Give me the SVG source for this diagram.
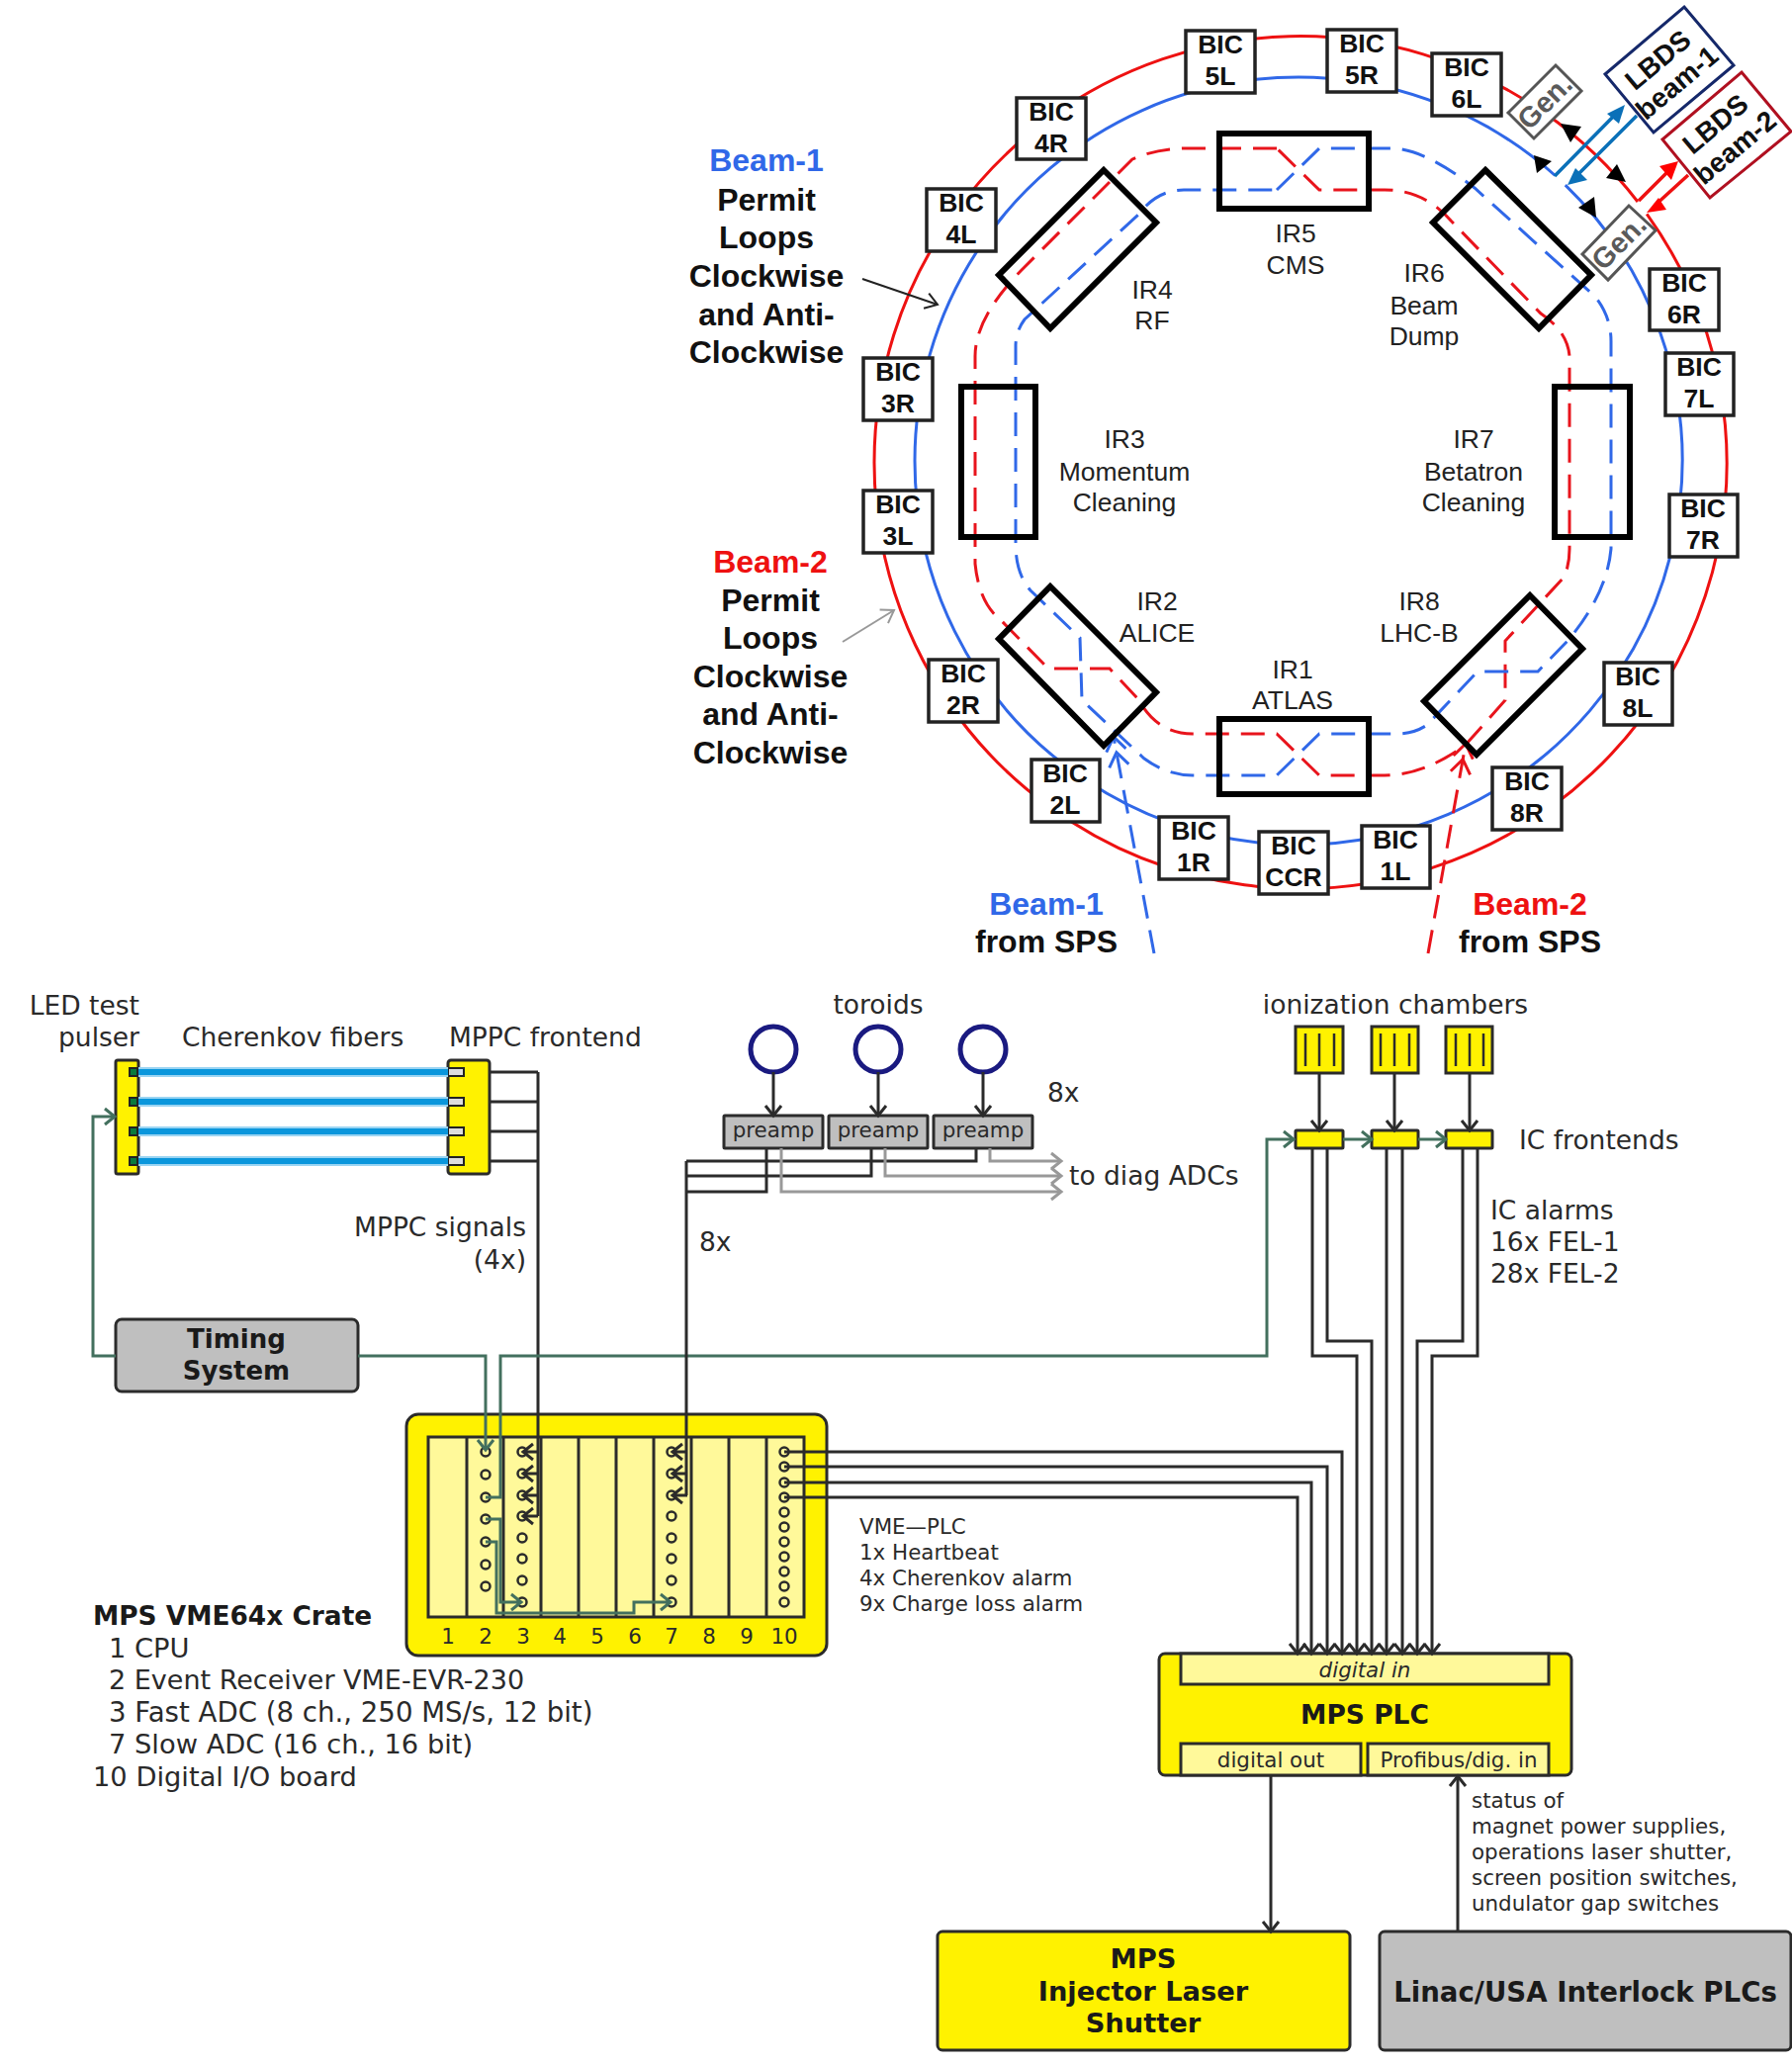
<svg xmlns="http://www.w3.org/2000/svg" width="1812" height="2088" viewBox="0 0 1812 2088">
<style>
text{font-family:"Liberation Sans",Arial,sans-serif;fill:#111}
.bic{fill:#fff;stroke:#222;stroke-width:3.5}
.bt{font-size:26.5px;font-weight:700;text-anchor:middle}
.ir{fill:none;stroke:#000;stroke-width:6;stroke-linejoin:miter}
.il{font-size:26.5px;text-anchor:middle;fill:#222}
.hd{font-size:32px;font-weight:700;text-anchor:middle}
.v{font-family:"DejaVu Sans",Verdana,sans-serif;font-size:26.5px;fill:#2a2a2a}
.vb{font-family:"DejaVu Sans",Verdana,sans-serif;font-size:27.3px;font-weight:700;fill:#1a1a1a;text-anchor:middle}
.vs{font-family:"DejaVu Sans",Verdana,sans-serif;font-size:21.4px;fill:#2a2a2a}
.m{text-anchor:middle}
.e{text-anchor:end}
.d,.g,.gr,.f,.fl{fill:none;stroke-linejoin:miter}
.d{stroke:#2b2b2b;stroke-width:3}
.g{stroke:#43705e;stroke-width:3}
.gr{stroke:#999;stroke-width:3}
.f{stroke:#0a96dc;stroke-width:6}
.fl{stroke:#9ad4f2;stroke-width:10}
.yb{fill:#fff200;stroke:#2b2b2b;stroke-width:3}
.ly{fill:#fff99a;stroke:#2b2b2b;stroke-width:3}
.gb{fill:#bfbfbf;stroke:#2b2b2b;stroke-width:3}
.c{fill:none;stroke:#2b2b2b;stroke-width:2.5}
.rr{fill:none;stroke:#ee1111;stroke-width:3}
.br{fill:none;stroke:#3068e8;stroke-width:3}
.rd{fill:none;stroke:#e8141c;stroke-width:3;stroke-dasharray:24 12}
.bd{fill:none;stroke:#3068e8;stroke-width:3;stroke-dasharray:24 12}
.gen{fill:#fff;stroke:#555;stroke-width:3}
.gt{font-size:29px;font-weight:700;text-anchor:middle;fill:#5a5a5a}
.lt{font-size:28px;font-weight:700;text-anchor:middle}
</style>
<defs>
<marker id="ad" markerUnits="userSpaceOnUse" markerWidth="16" markerHeight="20" refX="12" refY="10" orient="auto"><path d="M2 2L12 10L2 18" fill="none" stroke="#2b2b2b" stroke-width="3"/></marker>
<marker id="ag" markerUnits="userSpaceOnUse" markerWidth="16" markerHeight="20" refX="12" refY="10" orient="auto"><path d="M2 2L12 10L2 18" fill="none" stroke="#43705e" stroke-width="3"/></marker>
<marker id="agr" markerUnits="userSpaceOnUse" markerWidth="16" markerHeight="20" refX="12" refY="10" orient="auto"><path d="M2 2L12 10L2 18" fill="none" stroke="#999" stroke-width="3"/></marker>
<marker id="ab" markerUnits="userSpaceOnUse" markerWidth="36" markerHeight="24" refX="32" refY="12" orient="auto"><path d="M18 2L32 12L18 22M2 2L16 12L2 22" fill="none" stroke="#3068e8" stroke-width="3"/></marker>
<marker id="ar" markerUnits="userSpaceOnUse" markerWidth="36" markerHeight="24" refX="32" refY="12" orient="auto"><path d="M18 2L32 12L18 22M2 2L16 12L2 22" fill="none" stroke="#e8141c" stroke-width="3"/></marker>
<marker id="ak" markerUnits="userSpaceOnUse" markerWidth="20" markerHeight="20" refX="15" refY="10" orient="auto"><path d="M3 2L15 10L3 18" fill="none" stroke="#222" stroke-width="2"/></marker>
<marker id="al" markerUnits="userSpaceOnUse" markerWidth="20" markerHeight="20" refX="15" refY="10" orient="auto"><path d="M3 2L15 10L3 18" fill="none" stroke="#999" stroke-width="2"/></marker>
</defs>

<g id="connectors-ring">
<path class="rr" d="M1656 204A431 431 0 0 0 884 467.5A431 431 0 1 0 1665.2 216.3"/>
<path class="br" d="M1572.5 177.5A388 388 0 0 0 925 466A388 388 0 1 0 1582.8 187.2"/>
<path class="rd" d="M1291 150L1200 150Q1170 150 1145 161L1036 270Q986 320 986 360L986 570Q990 610 1012 627L1060 676L1122 676L1151 707Q1170 742 1206 742L1291 742L1334 784L1400 784Q1440 784 1482 753L1522 708L1522 648L1582 583Q1587 570 1587 555L1587 360Q1585 335 1558 317L1467 223Q1440 192 1400 192L1334 192Z"/>
<path class="bd" d="M1291 192L1334 150L1406 150Q1440 150 1491 190L1613 300Q1629 320 1629 345L1629 555Q1625 600 1586 647L1555 679L1494 679L1443 733Q1430 742 1412 742L1334 742L1291 784L1206 784Q1180 784 1157 767L1094 708L1092 645L1042 597Q1027 580 1027 550L1027 350Q1027 335 1036 323L1151 217Q1170 192 1197 192Z"/>
<path class="bd" d="M1167 964L1126 745" marker-end="url(#ab)"/>
<path class="rd" d="M1444 964L1482 752" marker-end="url(#ar)"/>
<path d="M872 282L948 308" fill="none" stroke="#222" stroke-width="2" marker-end="url(#ak)"/>
<path d="M852 649L904 617" fill="none" stroke="#999" stroke-width="2" marker-end="url(#al)"/>
<path fill="none" stroke="#0a70b8" stroke-width="3.5" d="M1572 178L1636 113M1655 117L1592 180"/>
<path fill="none" stroke="#ee1111" stroke-width="3.5" d="M1657 203L1690 170M1707 177L1673 208"/>
<polygon fill="#0a70b8" points="1643,106 1625,115 1637,125"/>
<polygon fill="#0a70b8" points="1585,187 1605,182 1593,170"/>
<polygon fill="#ff0000" points="1697,163 1678,168 1690,182"/>
<polygon fill="#ff0000" points="1665,215 1677,200 1685,212"/>
<polygon fill="#000" points="1578,125 1588,144 1599,128"/>
<polygon fill="#000" points="1644,184 1624,180 1635,166"/>
<polygon fill="#000" points="1551,157 1554,175 1569,163"/>
<polygon fill="#000" points="1614,220 1596,210 1612,199"/>
</g>

<g id="ir-boxes">
<rect class="ir" x="1233" y="135" width="151" height="76"/>
<rect class="ir" x="1233" y="727" width="151" height="76"/>
<rect class="ir" x="972" y="391" width="75" height="152"/>
<rect class="ir" x="1572" y="391" width="76" height="152"/>
<polygon class="ir" points="1116,172 1169,225 1062,332 1010,278"/>
<polygon class="ir" points="1502,172 1609,278 1556,332 1449,225"/>
<polygon class="ir" points="1062,593 1169,700 1116,754 1010,646"/>
<polygon class="ir" points="1547,602 1600,656 1493,763 1440,709"/>
</g>
<g id="ir-labels">
<text class="il"><tspan x="1310" y="245">IR5</tspan><tspan x="1310" y="277">CMS</tspan></text>
<text class="il"><tspan x="1165" y="302">IR4</tspan><tspan x="1165" y="333">RF</tspan></text>
<text class="il"><tspan x="1440" y="285">IR6</tspan><tspan x="1440" y="318">Beam</tspan><tspan x="1440" y="349">Dump</tspan></text>
<text class="il"><tspan x="1137" y="453">IR3</tspan><tspan x="1137" y="486">Momentum</tspan><tspan x="1137" y="517">Cleaning</tspan></text>
<text class="il"><tspan x="1490" y="453">IR7</tspan><tspan x="1490" y="486">Betatron</tspan><tspan x="1490" y="517">Cleaning</tspan></text>
<text class="il"><tspan x="1170" y="617">IR2</tspan><tspan x="1170" y="649">ALICE</tspan></text>
<text class="il"><tspan x="1435" y="617">IR8</tspan><tspan x="1435" y="649">LHC-B</tspan></text>
<text class="il"><tspan x="1307" y="686">IR1</tspan><tspan x="1307" y="717">ATLAS</tspan></text>
</g>
<g id="bic-5l"><rect class="bic" x="1199" y="31" width="70" height="63"/><text class="bt"><tspan x="1234" y="54">BIC</tspan><tspan x="1234" y="86">5L</tspan></text></g>
<g id="bic-5r"><rect class="bic" x="1342" y="30" width="70" height="63"/><text class="bt"><tspan x="1377" y="53">BIC</tspan><tspan x="1377" y="85">5R</tspan></text></g>
<g id="bic-6l"><rect class="bic" x="1448" y="54" width="70" height="63"/><text class="bt"><tspan x="1483" y="77">BIC</tspan><tspan x="1483" y="109">6L</tspan></text></g>
<g id="bic-4r"><rect class="bic" x="1028" y="99" width="70" height="62"/><text class="bt"><tspan x="1063" y="122">BIC</tspan><tspan x="1063" y="154">4R</tspan></text></g>
<g id="bic-4l"><rect class="bic" x="937" y="191" width="70" height="63"/><text class="bt"><tspan x="972" y="214">BIC</tspan><tspan x="972" y="246">4L</tspan></text></g>
<g id="bic-3r"><rect class="bic" x="873" y="362" width="70" height="63"/><text class="bt"><tspan x="908" y="385">BIC</tspan><tspan x="908" y="417">3R</tspan></text></g>
<g id="bic-3l"><rect class="bic" x="873" y="496" width="70" height="63"/><text class="bt"><tspan x="908" y="519">BIC</tspan><tspan x="908" y="551">3L</tspan></text></g>
<g id="bic-6r"><rect class="bic" x="1668" y="272" width="70" height="62"/><text class="bt"><tspan x="1703" y="295">BIC</tspan><tspan x="1703" y="327">6R</tspan></text></g>
<g id="bic-7l"><rect class="bic" x="1684" y="357" width="69" height="63"/><text class="bt"><tspan x="1718" y="380">BIC</tspan><tspan x="1718" y="412">7L</tspan></text></g>
<g id="bic-7r"><rect class="bic" x="1688" y="500" width="69" height="63"/><text class="bt"><tspan x="1722" y="523">BIC</tspan><tspan x="1722" y="555">7R</tspan></text></g>
<g id="bic-2r"><rect class="bic" x="939" y="667" width="70" height="63"/><text class="bt"><tspan x="974" y="690">BIC</tspan><tspan x="974" y="722">2R</tspan></text></g>
<g id="bic-2l"><rect class="bic" x="1043" y="768" width="69" height="63"/><text class="bt"><tspan x="1077" y="791">BIC</tspan><tspan x="1077" y="823">2L</tspan></text></g>
<g id="bic-1r"><rect class="bic" x="1172" y="826" width="70" height="63"/><text class="bt"><tspan x="1207" y="849">BIC</tspan><tspan x="1207" y="881">1R</tspan></text></g>
<g id="bic-ccr"><rect class="bic" x="1273" y="841" width="70" height="63"/><text class="bt"><tspan x="1308" y="864">BIC</tspan><tspan x="1308" y="896">CCR</tspan></text></g>
<g id="bic-1l"><rect class="bic" x="1377" y="835" width="69" height="63"/><text class="bt"><tspan x="1411" y="858">BIC</tspan><tspan x="1411" y="890">1L</tspan></text></g>
<g id="bic-8r"><rect class="bic" x="1509" y="776" width="70" height="63"/><text class="bt"><tspan x="1544" y="799">BIC</tspan><tspan x="1544" y="831">8R</tspan></text></g>
<g id="bic-8l"><rect class="bic" x="1622" y="670" width="69" height="63"/><text class="bt"><tspan x="1656" y="693">BIC</tspan><tspan x="1656" y="725">8L</tspan></text></g>

<g id="gen-1"><polygon class="gen" points="1573,66 1599,92 1551,140 1525,114"/><text class="gt" transform="translate(1569,110) rotate(-45)">Gen.</text></g>
<g id="gen-2"><polygon class="gen" points="1647,208 1674,233 1626,283 1600,257"/><text class="gt" transform="translate(1644,252) rotate(-45)">Gen.</text></g>
<g id="lbds-1"><polygon points="1703,7 1753,66 1672,134 1623,75" fill="#fff" stroke="#15286a" stroke-width="3"/><text class="lt" transform="translate(1688,70) rotate(-40)"><tspan x="-3" y="-5">LBDS</tspan><tspan x="-3" y="25">beam-1</tspan></text></g>
<g id="lbds-2"><polygon points="1761,73 1811,133 1729,200 1681,141" fill="#fff" stroke="#b01020" stroke-width="3"/><text class="lt" transform="translate(1746,136) rotate(-40)"><tspan x="-2" y="-6">LBDS</tspan><tspan x="-2" y="25">beam-2</tspan></text></g>

<g id="beam-labels">
<text class="hd"><tspan x="775" y="173" style="fill:#3068e8">Beam-1</tspan><tspan x="775" y="213">Permit</tspan><tspan x="775" y="251">Loops</tspan><tspan x="775" y="290">Clockwise</tspan><tspan x="775" y="329">and Anti-</tspan><tspan x="775" y="367">Clockwise</tspan></text>
<text class="hd"><tspan x="779" y="579" style="fill:#ee1111">Beam-2</tspan><tspan x="779" y="618">Permit</tspan><tspan x="779" y="656">Loops</tspan><tspan x="779" y="695">Clockwise</tspan><tspan x="779" y="733">and Anti-</tspan><tspan x="779" y="772">Clockwise</tspan></text>
<text class="hd"><tspan x="1058" y="925" style="fill:#3068e8">Beam-1</tspan><tspan x="1058" y="963">from SPS</tspan></text>
<text class="hd"><tspan x="1547" y="925" style="fill:#ee1111">Beam-2</tspan><tspan x="1547" y="963">from SPS</tspan></text>
</g>

<g id="led-pulser"><rect class="yb" x="117" y="1072" width="23" height="115" rx="2"/>
<g fill="#0a7a3c" stroke="#222" stroke-width="2"><rect x="131" y="1080" width="8" height="8"/><rect x="131" y="1110" width="8" height="8"/><rect x="131" y="1140" width="8" height="8"/><rect x="131" y="1170" width="8" height="8"/></g></g>
<g id="mppc-frontend"><rect class="yb" x="453" y="1072" width="42" height="115" rx="3"/>
<g fill="#ddd" stroke="#222" stroke-width="2"><rect x="453" y="1080" width="16" height="8"/><rect x="453" y="1110" width="16" height="8"/><rect x="453" y="1140" width="16" height="8"/><rect x="453" y="1170" width="16" height="8"/></g></g>
<g id="timing-system"><rect class="gb" x="117" y="1334" width="245" height="73" rx="6"/><text class="vb" style="font-size:26px"><tspan x="239" y="1363">Timing</tspan><tspan x="239" y="1395">System</tspan></text></g>

<g id="toroids"><circle cx="782" cy="1061" r="23" fill="none" stroke="#1a1a80" stroke-width="5"/><circle cx="888" cy="1061" r="23" fill="none" stroke="#1a1a80" stroke-width="5"/><circle cx="994" cy="1061" r="23" fill="none" stroke="#1a1a80" stroke-width="5"/></g>
<g id="preamps">
<rect class="gb" x="732" y="1128" width="100" height="33" rx="1"/><rect class="gb" x="838" y="1128" width="100" height="33" rx="1"/><rect class="gb" x="944" y="1128" width="100" height="33" rx="1"/>
<text class="vs m" x="782" y="1150">preamp</text><text class="vs m" x="888" y="1150">preamp</text><text class="vs m" x="994" y="1150">preamp</text>
</g>
<g id="ion-chambers">
<rect class="yb" x="1310" y="1038" width="48" height="47"/><rect class="yb" x="1387" y="1038" width="47" height="47"/><rect class="yb" x="1462" y="1038" width="47" height="47"/>
<path class="c" d="M1320 1045V1078M1334 1045V1078M1349 1045V1078M1396 1045V1078M1410 1045V1078M1425 1045V1078M1472 1045V1078M1486 1045V1078M1500 1045V1078"/>
</g>
<g id="ic-frontends"><rect class="yb" x="1310" y="1143" width="48" height="18" rx="1"/><rect class="yb" x="1387" y="1143" width="47" height="18" rx="1"/><rect class="yb" x="1462" y="1143" width="47" height="18" rx="1"/></g>

<g id="vme-crate">
<rect class="yb" x="411" y="1430" width="425" height="244" rx="12"/>
<rect class="ly" x="433" y="1453" width="380" height="182"/>
<path class="d" d="M472 1453V1635M509 1453V1635M547 1453V1635M585 1453V1635M623 1453V1635M661 1453V1635M699 1453V1635M737 1453V1635M775 1453V1635"/>
<g>
<circle class="c" cx="491" cy="1468" r="4.5"/><circle class="c" cx="491" cy="1491" r="4.5"/><circle class="c" cx="491" cy="1514" r="4.5"/><circle class="c" cx="491" cy="1536" r="4.5"/><circle class="c" cx="491" cy="1559" r="4.5"/><circle class="c" cx="491" cy="1582" r="4.5"/><circle class="c" cx="491" cy="1604" r="4.5"/>
<circle class="c" cx="528" cy="1468" r="4.5"/><circle class="c" cx="528" cy="1490" r="4.5"/><circle class="c" cx="528" cy="1512" r="4.5"/><circle class="c" cx="528" cy="1533" r="4.5"/><circle class="c" cx="528" cy="1555" r="4.5"/><circle class="c" cx="528" cy="1576" r="4.5"/><circle class="c" cx="528" cy="1598" r="4.5"/><circle class="c" cx="528" cy="1620" r="4.5"/>
<circle class="c" cx="679" cy="1468" r="4.5"/><circle class="c" cx="679" cy="1490" r="4.5"/><circle class="c" cx="679" cy="1512" r="4.5"/><circle class="c" cx="679" cy="1533" r="4.5"/><circle class="c" cx="679" cy="1555" r="4.5"/><circle class="c" cx="679" cy="1576" r="4.5"/><circle class="c" cx="679" cy="1598" r="4.5"/><circle class="c" cx="679" cy="1620" r="4.5"/>
<circle class="c" cx="793" cy="1468" r="4.5"/><circle class="c" cx="793" cy="1483" r="4.5"/><circle class="c" cx="793" cy="1499" r="4.5"/><circle class="c" cx="793" cy="1514" r="4.5"/><circle class="c" cx="793" cy="1529" r="4.5"/><circle class="c" cx="793" cy="1544" r="4.5"/><circle class="c" cx="793" cy="1559" r="4.5"/><circle class="c" cx="793" cy="1574" r="4.5"/><circle class="c" cx="793" cy="1589" r="4.5"/><circle class="c" cx="793" cy="1604" r="4.5"/><circle class="c" cx="793" cy="1620" r="4.5"/>
</g>
<g><text class="vs m" x="453" y="1662">1</text><text class="vs m" x="491" y="1662">2</text><text class="vs m" x="529" y="1662">3</text><text class="vs m" x="566" y="1662">4</text><text class="vs m" x="604" y="1662">5</text><text class="vs m" x="642" y="1662">6</text><text class="vs m" x="679" y="1662">7</text><text class="vs m" x="717" y="1662">8</text><text class="vs m" x="755" y="1662">9</text><text class="vs m" x="793" y="1662">10</text></g>
</g>
<g id="mps-plc">
<rect class="yb" x="1172" y="1672" width="417" height="123" rx="6"/>
<rect class="ly" x="1194" y="1672" width="372" height="31"/>
<rect class="ly" x="1194" y="1763" width="182" height="32"/>
<rect class="ly" x="1383" y="1763" width="183" height="32"/>
<text class="vs m" x="1380" y="1696" font-style="italic">digital in</text>
<text class="vb" x="1380" y="1743" style="font-size:26.5px">MPS PLC</text>
<text class="vs m" x="1285" y="1787">digital out</text>
<text class="vs m" x="1475" y="1787">Profibus/dig. in</text>
</g>
<g id="injector-shutter"><rect class="yb" x="948" y="1953" width="417" height="120" rx="5"/><text class="vb"><tspan x="1156" y="1990">MPS</tspan><tspan x="1156" y="2023">Injector Laser</tspan><tspan x="1156" y="2055">Shutter</tspan></text></g>
<g id="interlock-plcs"><rect class="gb" x="1395" y="1953" width="416" height="120" rx="5"/><text class="vb" x="1603" y="2024" style="font-size:27.6px">Linac/USA Interlock PLCs</text></g>

<g id="connectors">
<path class="fl" d="M140 1084H453M140 1114H453M140 1144H453M140 1174H453"/>
<path class="f" d="M140 1084H453M140 1114H453M140 1144H453M140 1174H453"/>
<path class="d" d="M495 1084H544M495 1114H544M495 1144H544M495 1174H544"/>
<path class="d" d="M544 1084V1533"/>
<path class="d" d="M544 1468H529" marker-end="url(#ad)"/><path class="d" d="M544 1490H529" marker-end="url(#ad)"/><path class="d" d="M544 1512H529" marker-end="url(#ad)"/><path class="d" d="M544 1533H529" marker-end="url(#ad)"/>
<path class="g" d="M117 1371H94V1129H116" marker-end="url(#ag)"/>
<path class="g" d="M362 1371H491V1466" marker-end="url(#ag)"/>
<path class="g" d="M491 1514H506V1371H1281V1152H1308" marker-end="url(#ag)"/>
<path class="g" d="M491 1536H506V1620H527" marker-end="url(#ag)"/>
<path class="g" d="M491 1559H502V1631H641V1620H678" marker-end="url(#ag)"/>
<path class="g" d="M1358 1152H1387" marker-end="url(#ag)"/>
<path class="g" d="M1434 1152H1462" marker-end="url(#ag)"/>
<path class="d" d="M782 1084V1128" marker-end="url(#ad)"/><path class="d" d="M888 1084V1128" marker-end="url(#ad)"/><path class="d" d="M994 1084V1128" marker-end="url(#ad)"/>
<path class="d" d="M987 1161V1174H694M881 1161V1189H694M775 1161V1205H694M694 1174V1512"/>
<path class="d" d="M695 1468H680" marker-end="url(#ad)"/><path class="d" d="M695 1490H680" marker-end="url(#ad)"/><path class="d" d="M695 1512H680" marker-end="url(#ad)"/>
<path class="gr" d="M1001 1161V1174H1073" marker-end="url(#agr)"/><path class="gr" d="M895 1161V1189H1073" marker-end="url(#agr)"/><path class="gr" d="M790 1161V1205H1073" marker-end="url(#agr)"/>
<path class="d" d="M1334 1085V1143" marker-end="url(#ad)"/><path class="d" d="M1410 1085V1143" marker-end="url(#ad)"/><path class="d" d="M1486 1085V1143" marker-end="url(#ad)"/>
<path class="d" d="M1327 1161V1371H1372V1672" marker-end="url(#ad)"/>
<path class="d" d="M1342 1161V1356H1387V1672" marker-end="url(#ad)"/>
<path class="d" d="M1402 1161V1672" marker-end="url(#ad)"/>
<path class="d" d="M1418 1161V1672" marker-end="url(#ad)"/>
<path class="d" d="M1479 1161V1356H1433V1672" marker-end="url(#ad)"/>
<path class="d" d="M1494 1161V1371H1448V1672" marker-end="url(#ad)"/>
<path class="d" d="M793 1468H1357V1672" marker-end="url(#ad)"/>
<path class="d" d="M793 1483H1342V1672" marker-end="url(#ad)"/>
<path class="d" d="M793 1499H1326V1672" marker-end="url(#ad)"/>
<path class="d" d="M793 1514H1312V1672" marker-end="url(#ad)"/>
<path class="d" d="M1285 1795V1953" marker-end="url(#ad)"/>
<path class="d" d="M1474 1953V1796" marker-end="url(#ad)"/>
</g>

<g id="labels">
<text class="v e"><tspan x="141" y="1026">LED test</tspan><tspan x="141" y="1058">pulser</tspan></text>
<text class="v" x="184" y="1058">Cherenkov fibers</text>
<text class="v" x="454" y="1058">MPPC frontend</text>
<text class="v e"><tspan x="532" y="1250">MPPC signals</tspan><tspan x="532" y="1283">(4x)</tspan></text>
<text class="v m" x="888" y="1025">toroids</text>
<text class="v m" x="1411" y="1025">ionization chambers</text>
<text class="v" x="1059" y="1114">8x</text>
<text class="v" x="707" y="1265">8x</text>
<text class="v" x="1081" y="1198">to diag ADCs</text>
<text class="v" x="1536" y="1162">IC frontends</text>
<text class="v"><tspan x="1507" y="1233">IC alarms</tspan><tspan x="1507" y="1265">16x FEL-1</tspan><tspan x="1507" y="1297">28x FEL-2</tspan></text>
<text class="vb" x="94" y="1643" style="text-anchor:start;font-size:26.4px">MPS VME64x Crate</text>
<text class="v" style="font-size:27.3px"><tspan x="110" y="1676">1 CPU</tspan><tspan x="110" y="1708" style="font-size:27px">2 Event Receiver VME-EVR-230</tspan><tspan x="110" y="1741" style="font-size:27.6px">3 Fast ADC (8 ch., 250 MS/s, 12 bit)</tspan><tspan x="110" y="1773">7 Slow ADC (16 ch., 16 bit)</tspan><tspan x="94" y="1806">10 Digital I/O board</tspan></text>
<text class="vs"><tspan x="869" y="1551">VME—PLC</tspan><tspan x="869" y="1577">1x Heartbeat</tspan><tspan x="869" y="1603">4x Cherenkov alarm</tspan><tspan x="869" y="1629">9x Charge loss alarm</tspan></text>
<text class="vs"><tspan x="1488" y="1828">status of</tspan><tspan x="1488" y="1854">magnet power supplies,</tspan><tspan x="1488" y="1880">operations laser shutter,</tspan><tspan x="1488" y="1906">screen position switches,</tspan><tspan x="1488" y="1932">undulator gap switches</tspan></text>
</g>
</svg>
